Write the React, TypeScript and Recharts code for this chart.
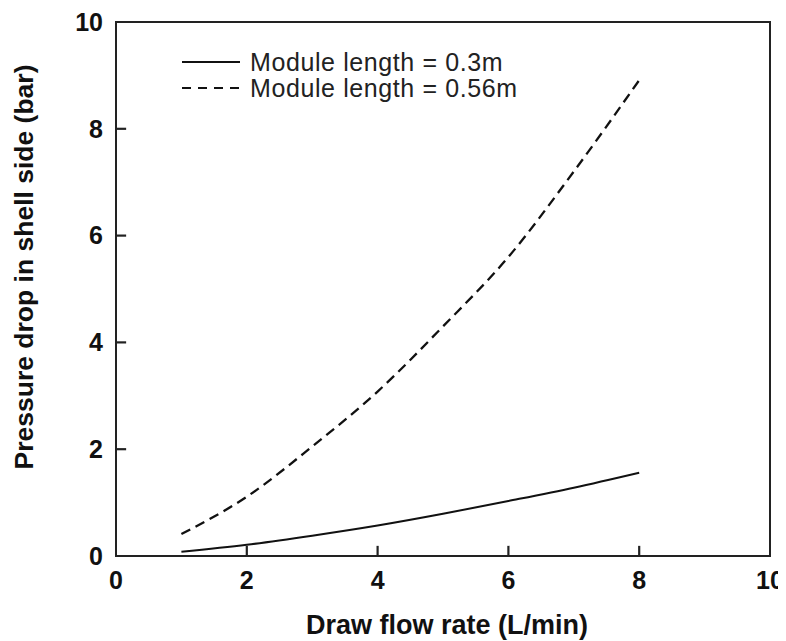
import React from "react";
import { LineChart, Line, XAxis, YAxis, Legend, Label, ReferenceArea, ReferenceLine } from "recharts";

const flowRates = [1, 2, 3, 4, 5, 6, 7, 8];
const drop030 = [0.08, 0.21, 0.38, 0.57, 0.79, 1.03, 1.28, 1.56];
const drop056 = [0.41, 1.11, 2.05, 3.08, 4.3, 5.6, 7.2, 8.91];
const xTicks = [0, 2, 4, 6, 8, 10];
const yTicks = [0, 2, 4, 6, 8, 10];
const seriesNames = ["Module length = 0.3m", "Module length = 0.56m"];

const data = flowRates.map((f, i) => ({ flow: f, a: drop030[i], b: drop056[i] }));

const FONT = "'Liberation Sans', Arial, Helvetica, sans-serif";
const AXIS = "#222";
const X_MARGIN = 15;
const Y_MARGIN = 13;
const TICK_FONT = 25;
// inward tick-mark length in axis units (about 10 px)
const TICK_DX = 0.155;
const TICK_DY = 0.19;

const renderXTick = (props: any) => {
  const { x, y, payload } = props;
  return (
    <text
      x={x}
      y={y}
      dy="0.71em"
      textAnchor="middle"
      fontFamily={FONT}
      fontSize={TICK_FONT}
      fontWeight={700}
      fill="#111"
    >
      {payload.value}
    </text>
  );
};

const renderYTick = (props: any) => {
  const { x, y, payload } = props;
  return (
    <text
      x={x}
      y={y}
      dy="0.355em"
      textAnchor="end"
      fontFamily={FONT}
      fontSize={TICK_FONT}
      fontWeight={700}
      fill="#111"
    >
      {payload.value}
    </text>
  );
};

const LegendContent = () => (
  <svg width={430} height={62} style={{ display: "block" }}>
    <line x1={14} x2={72} y1={22} y2={22} stroke="#111" strokeWidth={2} />
    <text x={82} y={22} dy="0.35em" fontFamily={FONT} fontSize={25} letterSpacing={0.6} fill="#222">
      {seriesNames[0]}
    </text>
    <line x1={14} x2={72} y1={48} y2={48} stroke="#111" strokeWidth={2} strokeDasharray="9 7" />
    <text x={82} y={48} dy="0.35em" fontFamily={FONT} fontSize={25} letterSpacing={0.6} fill="#222">
      {seriesNames[1]}
    </text>
  </svg>
);

export default function App() {
  const x0 = xTicks[0];
  const y0 = yTicks[0];
  return (
    <LineChart
      width={778}
      height={633}
      data={data}
      margin={{ top: 14, right: 16, bottom: 0, left: 0 }}
      style={{ fontFamily: FONT }}
    >
      <ReferenceArea
        x1={xTicks[0]}
        x2={xTicks[xTicks.length - 1]}
        y1={yTicks[0]}
        y2={yTicks[yTicks.length - 1]}
        fill="none"
        fillOpacity={0}
        stroke={AXIS}
        strokeWidth={2}
        ifOverflow="visible"
      />
      {xTicks.slice(1, -1).map((t) => (
        <ReferenceLine
          key={`xtk-${t}`}
          segment={[
            { x: t, y: y0 },
            { x: t, y: y0 + TICK_DY },
          ]}
          stroke={AXIS}
          strokeWidth={2.2}
          ifOverflow="visible"
        />
      ))}
      {yTicks.slice(1, -1).map((t) => (
        <ReferenceLine
          key={`ytk-${t}`}
          segment={[
            { x: x0, y: t },
            { x: x0 + TICK_DX, y: t },
          ]}
          stroke={AXIS}
          strokeWidth={2.2}
          ifOverflow="visible"
        />
      ))}
      <XAxis
        dataKey="flow"
        type="number"
        domain={[0, 10]}
        ticks={xTicks}
        height={85}
        tickSize={0}
        tickMargin={X_MARGIN}
        tick={renderXTick}
        axisLine={{ stroke: AXIS, strokeWidth: 2 }}
        tickLine={false}
        interval={0}
      >
        <Label
          content={({ viewBox }: any) => (
            <text
              x={viewBox.x + viewBox.width / 2 + 4}
              y={626}
              textAnchor="middle"
              fontFamily={FONT}
              fontSize={27}
              fontWeight={700}
              fill="#111"
            >
              Draw flow rate (L/min)
            </text>
          )}
        />
      </XAxis>
      <YAxis
        type="number"
        domain={[0, 10]}
        ticks={yTicks}
        width={108}
        tickSize={0}
        tickMargin={Y_MARGIN}
        tick={renderYTick}
        axisLine={{ stroke: AXIS, strokeWidth: 2 }}
        tickLine={false}
        interval={0}
      >
        <Label
          content={({ viewBox }: any) => {
            const cx = 16;
            const cy = viewBox.y + viewBox.height / 2 - 22;
            return (
              <text
                x={cx}
                y={cy}
                transform={`rotate(-90 ${cx} ${cy})`}
                textAnchor="middle"
                dominantBaseline="central"
                fontFamily={FONT}
                fontSize={26.5}
                fontWeight={700}
                fill="#111"
              >
                Pressure drop in shell side (bar)
              </text>
            );
          }}
        />
      </YAxis>
      <Legend
        layout="horizontal"
        verticalAlign="middle"
        align="center"
        content={<LegendContent />}
        wrapperStyle={{ position: "absolute", left: 160, top: 32, width: 430 }}
      />
      <Line
        type="monotone"
        dataKey="a"
        name={seriesNames[0]}
        stroke="#111"
        strokeWidth={2}
        dot={false}
        isAnimationActive={false}
      />
      <Line
        type="monotone"
        dataKey="b"
        name={seriesNames[1]}
        stroke="#111"
        strokeWidth={2.3}
        strokeDasharray="10 6"
        dot={false}
        isAnimationActive={false}
      />
    </LineChart>
  );
}
